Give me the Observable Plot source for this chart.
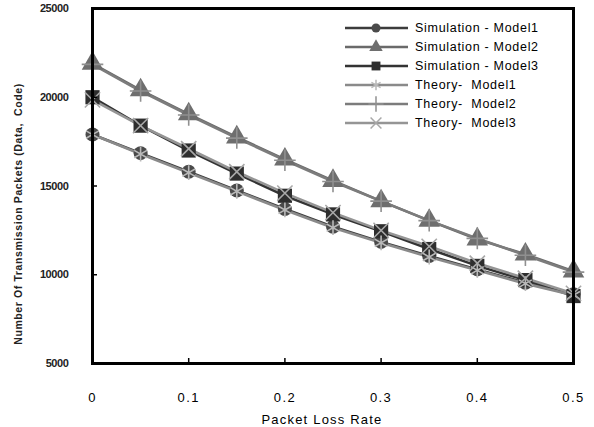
<!DOCTYPE html>
<html>
<head>
<meta charset="utf-8">
<script src="https://cdn.jsdelivr.net/npm/d3@7"></script>
<script src="https://cdn.jsdelivr.net/npm/@observablehq/plot@0.6"></script>
<style>
  html, body { margin: 0; padding: 0; background: #ffffff; }
  svg { display: block; }
</style>
</head>
<body>
<div id="chart"></div>
<script>
const lossRate = [0, 0.05, 0.1, 0.15, 0.2, 0.25, 0.3, 0.35, 0.4, 0.45, 0.5];
const simModel1 = [17900, 16850, 15800, 14750, 13700, 12700, 11850, 11050, 10300, 9550, 8900];
const simModel2 = [21900, 20400, 19050, 17750, 16500, 15300, 14150, 13050, 12000, 11150, 10200];
const simModel3 = [20000, 18400, 17000, 15700, 14450, 13400, 12450, 11450, 10500, 9700, 8800];
const theoryModel1 = [17900, 16800, 15750, 14700, 13650, 12650, 11800, 11000, 10250, 9500, 8850];
const theoryModel2 = [21850, 20350, 19000, 17700, 16450, 15250, 14150, 13050, 12050, 11100, 10150];
const theoryModel3 = [19850, 18400, 17100, 15800, 14600, 13500, 12500, 11600, 10650, 9800, 8950];
const seriesNames = ["Simulation - Model1", "Simulation - Model2", "Simulation - Model3", "Theory - Model1", "Theory - Model2", "Theory - Model3"];
const legendLabels = ["Simulation - Model1", "Simulation - Model2", "Simulation - Model3", "Theory-  Model1", "Theory-  Model2", "Theory-  Model3"];
const xTicks = [0, 0.1, 0.2, 0.3, 0.4, 0.5];
const yTicks = [5000, 10000, 15000, 20000, 25000];

const seriesValues = [simModel1, simModel2, simModel3, theoryModel1, theoryModel2, theoryModel3];
const styles = [
  {line: "#3c3c3c", sym: "circle", fill: "#4a4a4a", stroke: "none", r: 7},
  {line: "#6a6a6a", sym: "triangle", fill: "#6e6e6e", stroke: "none", r: 8},
  {line: "#333333", sym: "square", fill: "#2e2e2e", stroke: "none", r: 8},
  {line: "#8a8a8a", sym: "asterisk", fill: "none", stroke: "#b8b8b8", r: 7},
  {line: "#7c7c7c", sym: "plus", fill: "none", stroke: "#909090", r: 7},
  {line: "#959595", sym: "times", fill: "none", stroke: "#a8a8a8", r: 7}
];

const rows = [];
seriesValues.forEach((vals, i) => {
  vals.forEach((v, j) => rows.push({series: seriesNames[i], idx: i, x: lossRate[j], y: v}));
});

const marks = [];
for (let i = 0; i < 6; i++) {
  const s = styles[i];
  const d = rows.filter(r => r.idx === i);
  marks.push(Plot.line(d, {x: "x", y: "y", stroke: s.line, strokeWidth: 2.6}));
}
for (let i = 0; i < 6; i++) {
  const s = styles[i];
  const d = rows.filter(r => r.idx === i);
  marks.push(Plot.dot(d, {x: "x", y: "y", symbol: () => s.sym, r: s.r,
    fill: s.fill, stroke: s.stroke, strokeWidth: s.fill === "none" ? 1.6 : 0}));
}

const chart = Plot.plot({
  width: 594,
  height: 427,
  marginLeft: 92,
  marginRight: 21,
  marginTop: 8,
  marginBottom: 64,
  style: {fontFamily: "'Liberation Sans', Arial, sans-serif", background: "#ffffff", color: "#000"},
  symbol: {type: "identity"},
  x: {domain: [0, 0.5]},
  y: {domain: [5000, 25000]},
  marks: [
    ...marks,
    Plot.axisX({ticks: xTicks, tickSize: 0, tickPadding: 29, label: null, fontSize: 13,
      tickFormat: d => String(d)}),
    Plot.axisX({ticks: xTicks, tickSize: 5, text: null, dy: -5, strokeWidth: 1.5, label: null}),
    Plot.axisY({ticks: yTicks, tickSize: 0, tickPadding: 24, label: null, fontSize: 11,
      tickFormat: d => String(d)}),
    Plot.axisY({ticks: yTicks, tickSize: 5, text: null, dx: 5, strokeWidth: 1.5, label: null}),
    Plot.frame({stroke: "#000", strokeWidth: 3})
  ]
});

document.getElementById("chart").appendChild(chart);

const svg = d3.select(chart);
svg.selectAll("[aria-label='x-axis tick label'] text").attr("letter-spacing", "1.4px");
svg.selectAll("[aria-label='y-axis tick label'] text").attr("letter-spacing", "-0.4px").attr("font-weight", "bold").attr("fill", "#222");

svg.append("text")
  .attr("x", 322).attr("y", 424)
  .attr("text-anchor", "middle")
  .attr("font-size", 13).attr("letter-spacing", "1.2px")
  .attr("font-family", "'Liberation Sans', Arial, sans-serif")
  .text("Packet Loss Rate");
svg.append("text")
  .attr("transform", "translate(22,214) rotate(-90)")
  .attr("text-anchor", "middle")
  .attr("font-size", 10.5).attr("font-weight", "bold").attr("fill", "#222")
  .attr("letter-spacing", "0.6px")
  .attr("font-family", "'Liberation Sans', Arial, sans-serif")
  .text("Number Of Transmission Packets (Data,  Code)");

const lg = svg.append("g");
const symMap = {circle: d3.symbolCircle, triangle: d3.symbolTriangle, square: d3.symbolSquare,
  asterisk: d3.symbolAsterisk, plus: d3.symbolPlus, times: d3.symbolTimes};
legendLabels.forEach((lab, i) => {
  const s = styles[i];
  const y = 28 + i * 19;
  lg.append("line").attr("x1", 345).attr("x2", 408).attr("y1", y).attr("y2", y)
    .attr("stroke", s.line).attr("stroke-width", 2.6);
  const r = s.sym === "circle" ? 4.5 : 5;
  lg.append("path")
    .attr("d", d3.symbol(symMap[s.sym], Math.PI * r * r)())
    .attr("transform", `translate(376,${y})`)
    .attr("fill", s.fill).attr("stroke", s.stroke === "none" ? null : s.stroke)
    .attr("stroke-width", 1.5);
  lg.append("text").attr("x", 415).attr("y", y).attr("dy", "0.35em")
    .attr("text-anchor", "start")
    .attr("font-size", 12.5).attr("letter-spacing", "0.7px")
    .attr("font-family", "'Liberation Sans', Arial, sans-serif")
    .text(lab);
});
</script>
</body>
</html>
